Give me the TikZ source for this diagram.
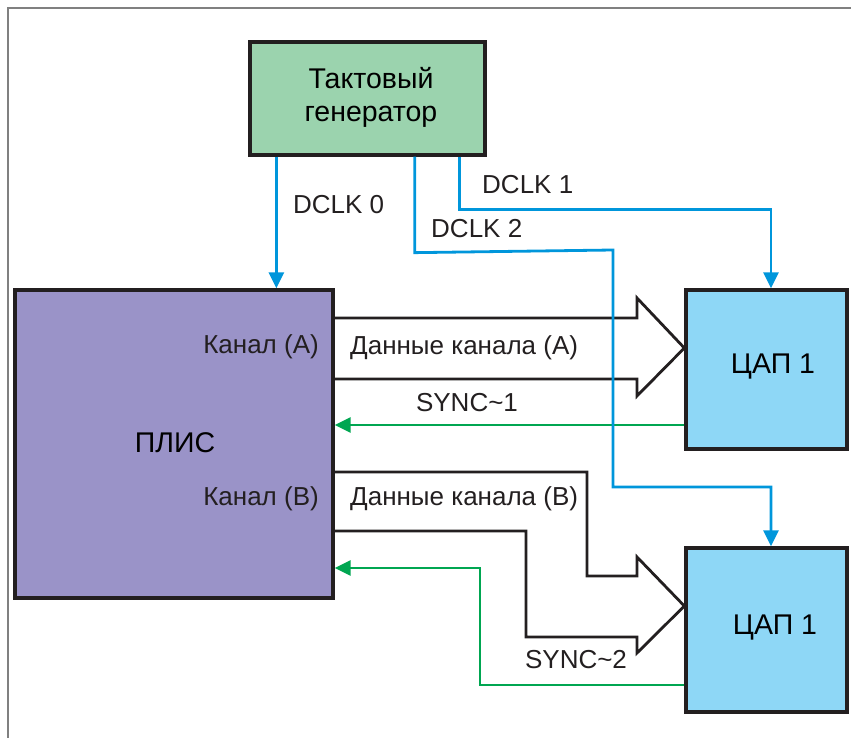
\documentclass[tikz,border=0pt]{standalone}
\usepackage{fontspec}
\setmainfont{Liberation Sans}
\usetikzlibrary{arrows.meta,calc}
\definecolor{colgen}{RGB}{155,211,174}
\definecolor{colplis}{RGB}{154,147,200}
\definecolor{coldac}{RGB}{142,215,246}
\definecolor{colclk}{RGB}{0,150,219}
\definecolor{colsync}{RGB}{0,166,81}
\definecolor{colline}{RGB}{35,31,32}
\tikzset{
  block/.style={
    draw=colline,
    line width=3.3pt,
    rectangle,
    align=center,
    font=\fontsize{28.5}{33}\selectfont
  },
  clk/.style={
    draw=colclk,
    line width=2.8pt,
    -{Triangle[length=16pt,width=15pt]}
  },
  sync/.style={
    draw=colsync,
    line width=2.8pt,
    -{Triangle[length=16pt,width=15pt]}
  },
  bus/.style={
    draw=colline,
    line width=2.8pt,
    line join=miter
  },
  lbl/.style={
    inner sep=0pt,
    font=\fontsize{26}{30}\selectfont,
    text=colline
  }
}

\begin{document}
\begin{tikzpicture}[x=1pt,y=-1pt]
  \useasboundingbox (0,0) rectangle (851,738);

  % frame
  \draw[gray,line width=2pt] (8,738) -- (8,8) -- (851,8);

  % the blocks
  \node[block,fill=colgen,minimum width=235pt,minimum height=113pt]
    (gen) at (367.5,98.5) {};
  \node[block,fill=colplis,minimum width=318pt,minimum height=308pt]
    (plis) at (174,444) {};
  \node[block,fill=coldac,minimum width=161pt,minimum height=159pt]
    (dacA) at (766.5,369.5) {};
  \node[block,fill=coldac,minimum width=161pt,minimum height=164pt]
    (dacB) at (766.5,630) {};

  % block captions
  \node[block,draw=none] (genlbl) at (371,97) {Тактовый\\генератор};
  \node[block,draw=none] (plislbl) at (175,443) {ПЛИС};
  \node[block,draw=none] (dacAlbl) at (773,367) {ЦАП 1};
  \node[block,draw=none] (dacBlbl) at (775,628) {ЦАП 1};

  % data buses
  \draw[bus] (333,318) -- (637,318) -- (637,298) -- (dacA.west |- 0,348)
    -- (637,396) -- (637,379) -- (333,379);
  \draw[bus] (333,472) -- (587,472) -- (587,576) -- (637,576) -- (637,557)
    -- (dacB.west |- 0,606) -- (637,653) -- (637,637) -- (526,637)
    -- (526,531) -- (333,531);

  % sync lines
  \draw[sync] (dacA.west |- 0,425) -- (plis.east |- 0,425);
  \draw[sync] (dacB.west |- 0,685) -- (480,685) -- (480,568)
    -- (plis.east |- 0,568);

  % clock lines
  \draw[clk] ([xshift=28pt]gen.south west) coordinate (c0)
    -- (c0 |- plis.north);
  \draw[clk] ([xshift=-27pt]gen.south east) -- ++(0,53)
    -| ([xshift=4.5pt]dacA.north);
  \draw[clk] ([xshift=-72pt]gen.south east) -- ++(0,96) -- (613,250)
    -- (613,487) -| ([xshift=4.5pt]dacB.north);

  % the labels
  \node[lbl,anchor=west] (dclk0) at (293,205) {DCLK 0};
  \node[lbl,anchor=west] (dclk1) at (482,185) {DCLK 1};
  \node[lbl,anchor=west] (dclk2) at (431,229) {DCLK 2};
  \node[lbl,anchor=east] (chA) at (319,347) {Канал (A)};
  \node[lbl,anchor=east] (chB) at (319,499) {Канал (B)};
  \node[lbl,anchor=west] (dataA) at (350,348) {Данные канала (A)};
  \node[lbl,anchor=west] (dataB) at (350,499) {Данные канала (B)};
  \node[lbl] (syncA) at (467,403) {SYNC\textasciitilde 1};
  \node[lbl] (syncB) at (576,660) {SYNC\textasciitilde 2};
\end{tikzpicture}
\end{document}
